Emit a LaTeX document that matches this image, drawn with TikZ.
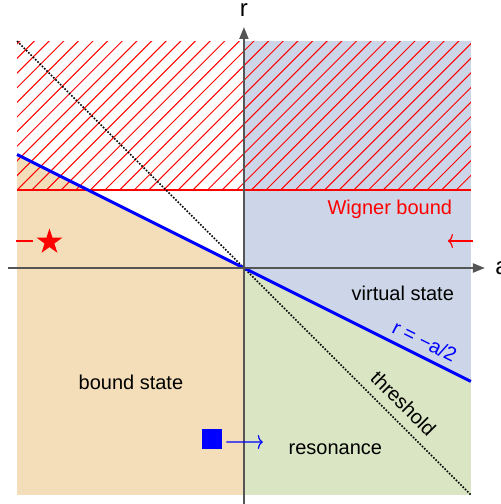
\documentclass[tikz,border=0pt]{standalone}
\usepackage{fontspec}
\setmainfont{Liberation Sans}
\usepackage{xcolor}
\usetikzlibrary{arrows.meta, shapes.geometric, positioning}

\definecolor{boundfill}{HTML}{F3DEB9}
\definecolor{virtualfill}{HTML}{CCD6E8}
\definecolor{resfill}{HTML}{DAE5C3}
\definecolor{axisgray}{HTML}{555555}

\begin{document}
\begin{tikzpicture}[
    x=113.5pt, y=113.5pt,
    every node/.style={font=\fontsize{10pt}{12pt}\selectfont},
    axis/.style={
        axisgray,
        line width=1pt,
        -{Triangle[length=6pt, width=4.5pt]}
    },
    axislabel/.style={
        inner sep=0pt,
        font=\fontsize{12pt}{14pt}\selectfont
    },
    hatch/.style={red, line width=0.5pt},
    wigner/.style={red, line width=1pt},
    slope/.style={blue, line width=1.5pt},
    thresh/.style={black, line width=0.8pt, dash pattern=on 0.8pt off 0.8pt},
    marker/.style={line width=0.6pt, -{To[length=2.5pt, width=7pt]}}
]

\useasboundingbox (-1.075,-1.040) rectangle (1.132,1.181);

\fill [boundfill]   (-1,0.5) -- (0,0) -- (0,-1) -- (-1,-1) -- cycle;
\fill [virtualfill] (0,1) -- (1,1) -- (1,-0.5) -- (0,0) -- cycle;
\fill [resfill]     (0,0) -- (1,-0.5) -- (1,-1) -- (0,-1) -- cycle;

\begin{scope}
    \clip (-1,0.344) rectangle (1,1);
    \foreach \n in {-11,...,32}
        \draw [hatch] (-2,{-2-0.0115+0.0645*\n}) -- (2,{2-0.0115+0.0645*\n});
\end{scope}

\coordinate (wl) at (-1,0.344);
\coordinate (wr) at (1,0.344);
\coordinate (sl) at (-1,0.5);
\coordinate (sr) at (1,-0.5);
\coordinate (tl) at (-1,1);
\coordinate (tr) at (1,-1);

\draw [wigner] (wl) -- (wr);
\draw [thresh] (tl) -- (tr);
\draw [slope]  (sl) -- (sr);

\coordinate (aleft)  at (-1.04,0);
\coordinate (aright) at (1.062,0);
\coordinate (rlow)   at (0,-1.04);
\coordinate (rhigh)  at (0,1.062);

\draw [axis] (aleft) -- (aright);
\draw [axis] (rlow) -- (rhigh);

\node (alabel) [axislabel, right=5pt of aright] {a};
\node (rlabel) [axislabel, above=5pt of rhigh]  {r};

\node (star) [star, star points=5, star point ratio=2.618, fill=red,
              inner sep=0pt, minimum size=13.5pt] at (-0.857,0.115) {};
\coordinate (dashstart) at (-1.004,0.119);
\coordinate (dashend)   at (-0.93,0.119);
\draw [red, line width=0.6pt] (dashstart) -- (dashend);

\coordinate (vsfrom) at (1.009,0.119);
\coordinate (vsto)   at (0.899,0.119);
\draw [marker, red] (vsfrom) -- (vsto);

\node (square) [rectangle, fill=blue, inner sep=0pt, minimum size=10pt]
      at (-0.141,-0.753) {};
\coordinate (restip) at (0.083,-0.767);
\draw [marker, blue] ([xshift=2pt, yshift=-1.6pt]square.east) -- (restip);

\node (wignerlabel) [red] at (0.643,0.260) {Wigner bound};
\node (virtlabel)   at (0.700,-0.110) {virtual state};
\node (slopelabel)  [blue, rotate=-26.57] at (0.797,-0.322) {r = −a/2};
\node (threshlabel) [rotate=-45] at (0.703,-0.597) {threshold};
\node (reslabel)    at (0.403,-0.800) {resonance};
\node (boundlabel)  at (-0.498,-0.502) {bound state};

\end{tikzpicture}
\end{document}
